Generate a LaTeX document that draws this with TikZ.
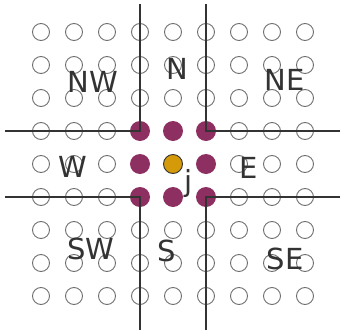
\documentclass[tikz,border=0pt]{standalone}
\usepackage{fontspec}
\setmainfont{DejaVu Sans}
\usetikzlibrary{calc}
\definecolor{nbcol}{HTML}{8E2F62}
\definecolor{ctrcol}{HTML}{D49A0A}
\definecolor{linecol}{HTML}{333333}
\definecolor{emptycol}{HTML}{6E6E6E}

\begin{document}
\begin{tikzpicture}[
  x=1pt, y=-1pt,
  cell/.style={circle, draw=emptycol, line width=0.9pt, minimum size=17pt, inner sep=0pt},
  nbr/.style={circle, fill=nbcol, minimum size=20pt, inner sep=0pt},
  ctr/.style={circle, fill=ctrcol, draw=linecol, line width=0.9pt, minimum size=19pt, inner sep=0pt},
  wall/.style={draw=linecol, line width=1.6pt},
  region/.style={font=\fontsize{29}{32}\selectfont, text=linecol, inner sep=0pt},
]
\useasboundingbox (0,0) rectangle (341,330);

% ---------------------------------------------------------------- grid
\foreach \i in {0,...,8}
  \foreach \j in {0,...,8} {
    \pgfmathtruncatemacro{\di}{abs(\i-4)}
    \pgfmathtruncatemacro{\dj}{abs(\j-4)}
    \ifnum\di<2 \ifnum\dj<2 \else
      \node[cell] (c-\i-\j) at ({41+33*\i},{32+33*\j}) {};
    \fi \else
      \node[cell] (c-\i-\j) at ({41+33*\i},{32+33*\j}) {};
    \fi
  }

% ------------------------------------------------------- neighbourhood
\foreach \i/\j in {3/3,4/3,5/3,3/4,5/4,3/5,4/5,5/5}
  \node[nbr] (c-\i-\j) at ({41+33*\i},{32+33*\j}) {};
\node[ctr] (c-4-4) at (173,164) {};
\node[region, anchor=north west] (jlab) at ([xshift=1pt,yshift=-5pt]c-4-4.east) {j};

% ------------------------------------------------------------- walls
\coordinate (nwtop)  at (c-3-3 |- 0,4);
\coordinate (nwleft) at (5,0 |- c-3-3);
\coordinate (netop)  at (c-5-3 |- 0,4);
\coordinate (neright) at (340,0 |- c-5-3);
\coordinate (swbot)  at (c-3-5 |- 0,330);
\coordinate (swleft) at (5,0 |- c-3-5);
\coordinate (sebot)  at (c-5-5 |- 0,330);
\coordinate (seright) at (340,0 |- c-5-5);

\draw[wall] (nwtop) -- (c-3-3.center) -- (nwleft);
\draw[wall] (netop) -- (c-5-3.center) -- (neright);
\draw[wall] (swbot) -- (c-3-5.center) -- (swleft);
\draw[wall] (sebot) -- (c-5-5.center) -- (seright);

% ------------------------------------------------------------- labels
\node[region] (nw) at (93,82)  {NW};
\node[region] (n)  at (177,69) {N};
\node[region] (ne) at (285,80) {NE};
\node[region] (w)  at (73,167) {W};
\node[region] (e)  at (249,168) {E};
\node[region] (sw) at (91,249) {SW};
\node[region] (s)  at (167,251) {S};
\node[region] (se) at (285,259) {SE};

\end{tikzpicture}
\end{document}
